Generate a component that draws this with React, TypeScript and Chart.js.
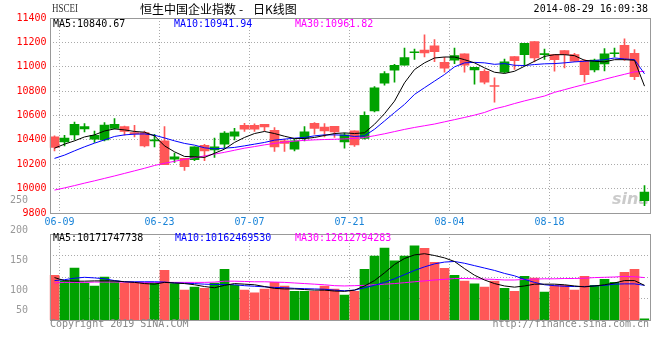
import React, { useEffect, useRef } from 'react';
import { Chart, registerables } from 'chart.js';

Chart.register(...registerables);

// ---------------- DATA ----------------
const DATES = [
  '06-06', '06-09', '06-10', '06-11', '06-12', '06-13', '06-16', '06-17', '06-18', '06-19',
  '06-20', '06-23', '06-24', '06-25', '06-26', '06-27', '06-30', '07-02', '07-03', '07-04',
  '07-07', '07-08', '07-09', '07-10', '07-11', '07-14', '07-15', '07-16', '07-17', '07-18',
  '07-21', '07-22', '07-23', '07-24', '07-25', '07-28', '07-29', '07-30', '07-31', '08-01',
  '08-04', '08-05', '08-06', '08-07', '08-08', '08-11', '08-12', '08-13', '08-14', '08-15',
  '08-18', '08-19', '08-20', '08-21', '08-22', '08-25', '08-26', '08-27', '08-28', '08-29',
];
const AXIS_DATES = ['06-09', '06-23', '07-07', '07-21', '08-04', '08-18'];

const OPEN = [
  10424, 10384, 10441, 10490, 10406, 10400, 10493, 10509, 10460, 10460,
  10392, 10392, 10242, 10248, 10237, 10355, 10318, 10365, 10430, 10520,
  10520, 10528, 10479, 10392, 10324, 10414, 10536, 10506, 10512, 10384,
  10474, 10411, 10637, 10865, 10971, 11012, 11115, 11136, 11172, 11036,
  11053, 11107, 10974, 10963, 10845, 10956, 11083, 11100, 11207, 11100,
  11099, 11132, 11099, 11051, 10975, 11023, 11107, 11176, 11111, 9902,
];
const CLOSE = [
  10338, 10414, 10528, 10509, 10438, 10522, 10528, 10469, 10449, 10351,
  10400, 10196, 10261, 10180, 10343, 10309, 10343, 10455, 10465, 10487,
  10487, 10506, 10343, 10371, 10392, 10465, 10493, 10473, 10465, 10441,
  10359, 10602, 10828, 10944, 11012, 11075, 11121, 11114, 11123, 10988,
  11091, 11012, 10996, 10873, 10838, 11041, 11050, 11192, 11073, 11106,
  11058, 11099, 11045, 10934, 11054, 11105, 11112, 11065, 10918, 9971,
];
const HIGH = [
  10433, 10438, 10547, 10534, 10473, 10542, 10575, 10514, 10520, 10473,
  10446, 10509, 10291, 10248, 10343, 10364, 10414, 10469, 10495, 10536,
  10532, 10528, 10501, 10406, 10406, 10509, 10542, 10534, 10512, 10455,
  10474, 10630, 10838, 10961, 11020, 11154, 11145, 11262, 11222, 11077,
  11154, 11107, 10996, 10977, 10909, 11063, 11083, 11192, 11207, 11145,
  11099, 11132, 11110, 11059, 11062, 11150, 11153, 11230, 11141, 10025,
];
const LOW = [
  10310, 10351, 10400, 10465, 10379, 10392, 10490, 10438, 10424, 10343,
  10343, 10196, 10216, 10149, 10229, 10229, 10257, 10330, 10400, 10469,
  10469, 10473, 10305, 10305, 10310, 10392, 10447, 10424, 10420, 10332,
  10346, 10406, 10630, 10849, 10873, 11012, 11060, 11080, 11042, 10955,
  11026, 10955, 10857, 10860, 10710, 10950, 10978, 11010, 11040, 11060,
  10964, 10990, 11042, 10875, 10958, 10965, 11080, 11052, 10893, 9861,
];

const MA5 = [
  10332, 10365, 10392, 10424, 10441, 10473, 10490, 10482, 10469, 10463,
  10433, 10351, 10302, 10264, 10261, 10256, 10290, 10324, 10379, 10420,
  10452, 10469, 10452, 10430, 10411, 10411, 10420, 10436, 10452, 10457,
  10452, 10458, 10528, 10615, 10718, 10868, 10977, 11032, 11072, 11080,
  11080, 11058, 11032, 10991, 10955, 10945, 10963, 11004, 11045, 11085,
  11099, 11099, 11091, 11053, 11045, 11040, 11058, 11058, 11053, 10841,
];
const MA10 = [
  10248, 10275, 10310, 10343, 10373, 10400, 10428, 10441, 10447, 10449,
  10438, 10416, 10392, 10371, 10357, 10335, 10326, 10332, 10338, 10351,
  10365, 10379, 10398, 10406, 10414, 10420, 10433, 10441, 10441, 10438,
  10428, 10433, 10487, 10555, 10624, 10691, 10773, 10828, 10882, 10936,
  10999, 11032, 11036, 11032, 11020, 11026, 11012, 11010, 11018, 11024,
  11026, 11032, 11040, 11045, 11051, 11058, 11072, 11064, 11058, 10942,
];
const MA30 = [
  9988, 10006, 10025, 10045, 10064, 10084, 10104, 10125, 10146, 10167,
  10190, 10208, 10224, 10240, 10254, 10268, 10283, 10298, 10315, 10332,
  10345, 10359, 10371, 10382, 10390, 10396, 10400, 10403, 10405, 10408,
  10412, 10420, 10434, 10450, 10468, 10486, 10502, 10516, 10530, 10548,
  10566, 10584, 10603, 10625, 10655, 10674, 10698, 10720, 10740, 10760,
  10790, 10812, 10834, 10855, 10875, 10897, 10918, 10938, 10958, 10962,
];

const VOLUME = [
  125, 115.5, 137, 112, 106.7, 122, 115, 112, 112, 112,
  112, 133, 111, 100, 105, 103, 112, 135, 108, 100,
  95.5, 101.7, 113, 106.7, 98, 98, 98, 107, 101.7, 91.7,
  98, 135, 157, 170.5, 149, 157, 174, 170, 146.7, 136.7,
  125, 115, 110.5, 105, 115, 103, 98, 123, 120, 96.7,
  108, 108, 100, 123, 108, 118, 113, 130, 135, 52,
];
const VOL_MA5 = [
  121, 116, 115, 115, 115.5, 115.5, 115.5, 114, 113, 111,
  110, 113, 112, 111, 109, 106, 104, 108, 111, 110,
  109, 106, 103, 102, 102, 101, 100, 100, 98.5, 98,
  100, 107, 116, 129, 143, 153, 159, 161, 158, 154,
  148, 136, 125, 117, 111, 107, 105, 107, 110, 110,
  110, 109, 107, 105.5, 107, 109, 112, 116, 116, 108,
];
const VOL_MA10 = [
  116, 117.5, 120, 121.5, 120.5, 119, 116, 114, 114, 114,
  114, 113.5, 112, 111.5, 111, 110, 109.5, 109.5, 109, 107.5,
  106.5, 105.5, 104.5, 104, 103, 102.5, 102, 101.5, 100, 99,
  100, 104, 108, 113, 119, 126, 133, 139, 144, 147,
  148, 145, 141, 137, 133, 128, 124, 118, 113, 109,
  107.5, 106.5, 106, 106, 107, 108, 110, 110.5, 110.5, 108,
];
const VOL_MA30 = [
  112, 113, 113, 113, 113.5, 113.5, 113.5, 113.5, 113, 113,
  113, 113, 113, 113, 113, 113, 113.5, 115, 115, 114.5,
  114, 114, 113.5, 113, 112, 111, 110, 109, 107.5, 107,
  107.5, 108, 109, 110, 111, 112.5, 114, 115.5, 117, 118,
  119.5, 119.5, 119, 118.5, 118, 117, 117, 118, 118.5, 119,
  119, 119.5, 119.5, 120, 121, 121.5, 122, 123, 122.5, 121,
];

const PRICE_MIN = 9800;
const PRICE_MAX = 11400;
const PRICE_STEP = 200;
const VOL_MIN = 50;
const VOL_MAX = 194;
const VOL_TICKS = [50, 100, 150, 200, 250];

const SYMBOL = 'HSCEI';
const TITLE_MAIN = '恒生中国企业指数';
const TITLE_SEP = '-';
const TITLE_SUB = '日K线图';
const TIMESTAMP = '2014-08-29 16:09:38';
const PRICE_LEGEND = [
  { text: 'MA5:10840.67', color: '#000000' },
  { text: 'MA10:10941.94', color: '#0000ff' },
  { text: 'MA30:10961.82', color: '#ff00ff' },
];
const VOL_LEGEND = [
  { text: 'MA5:10171747738', color: '#000000' },
  { text: 'MA10:10162469530', color: '#0000ff' },
  { text: 'MA30:12612794283', color: '#ff00ff' },
];
const COPYRIGHT = 'Copyright 2019 SINA.COM';
const SITE = 'http://finance.sina.com.cn';
const WATERMARK = 'sina';

// ---------------- STYLE ----------------
const MONO = '"DejaVu Sans Mono", "Liberation Mono", monospace';
const UP = '#00a200';
const DOWN = '#ff5757';
const GRID = '#aaaaaa';
const FRAME = '#999999';
const DATE_BLUE = '#1a84d8';
const LEGEND_X = [53, 174, 295];

const candleColors = DATES.map((_, i) => (CLOSE[i] >= OPEN[i] ? UP : DOWN));

function text(ctx: CanvasRenderingContext2D, s: string, x: number, y: number, font: string, color: string, align: CanvasTextAlign = 'left') {
  ctx.save();
  ctx.font = font;
  ctx.fillStyle = color;
  ctx.textAlign = align;
  ctx.textBaseline = 'middle';
  ctx.fillText(s, x, y);
  ctx.restore();
}

function frame(chart: any) {
  const { ctx, chartArea: a } = chart;
  ctx.save();
  ctx.strokeStyle = FRAME;
  ctx.lineWidth = 1;
  const l = Math.round(a.left) + 0.5;
  const t = Math.round(a.top) + 0.5;
  const r = Math.round(a.right) + 0.5;
  const b = Math.round(a.bottom) + 0.5;
  ctx.strokeRect(l, t, r - l, b - t);
  ctx.restore();
}

const lineDs = (label: string, data: number[], color: string) => ({
  type: 'line' as const,
  label,
  data,
  borderColor: color,
  borderWidth: 1,
  pointRadius: 0,
  tension: 0,
  fill: false,
  order: 0,
});

const xGridColor = (c: any) => (AXIS_DATES.includes(DATES[c.index]) ? GRID : 'rgba(0,0,0,0)');

function priceConfig(): any {
  return {
    type: 'bar',
    data: {
      labels: DATES,
      datasets: [
        lineDs('MA5', MA5, '#000000'),
        lineDs('MA10', MA10, '#0000ff'),
        lineDs('MA30', MA30, '#ff00ff'),
        {
          type: 'bar',
          label: 'body',
          data: DATES.map((_, i) => [OPEN[i], CLOSE[i]]),
          backgroundColor: candleColors,
          barThickness: 9,
          grouped: false,
          minBarLength: 1,
          order: 1,
        },
        {
          type: 'bar',
          label: 'wick',
          data: DATES.map((_, i) => [LOW[i], HIGH[i]]),
          backgroundColor: candleColors,
          barThickness: 1,
          grouped: false,
          order: 2,
        },
      ],
    },
    options: {
      animation: false,
      responsive: false,
      maintainAspectRatio: false,
      devicePixelRatio: 1,
      events: [],
      layout: { padding: { top: 18, right: 10.5, left: 0, bottom: 0 } },
      plugins: { legend: { display: false }, tooltip: { enabled: false } },
      scales: {
        x: {
          type: 'category',
          offset: true,
          grid: { offset: true, drawTicks: false, color: xGridColor, lineWidth: 1 },
          border: { display: false, dash: [1, 2] },
          ticks: {
            autoSkip: false,
            maxRotation: 0,
            minRotation: 0,
            color: DATE_BLUE,
            font: { family: MONO, size: 10 },
            padding: 3,
            labelOffset: -5,
            callback: (_v: any, i: number) => (AXIS_DATES.includes(DATES[i]) ? DATES[i] : ''),
          },
          afterFit: (s: any) => { s.height = 19; },
        },
        y: {
          min: PRICE_MIN,
          max: PRICE_MAX,
          ticks: {
            stepSize: PRICE_STEP,
            color: '#ff0000',
            font: { family: MONO, size: 10 },
            padding: 3,
            callback: (v: any) => String(v),
          },
          grid: { drawTicks: false, color: GRID, lineWidth: 1 },
          border: { display: false, dash: [1, 2] },
          afterFit: (s: any) => { s.width = 49.5; },
        },
      },
    },
    plugins: [
      {
        id: 'priceDecor',
        beforeDatasetsDraw(chart: any) {
          const { ctx } = chart;
          text(ctx, WATERMARK, 612, 200, 'italic bold 16px "DejaVu Sans"', 'rgba(185,185,185,0.75)');
        },
        afterDraw(chart: any) {
          const { ctx } = chart;
          frame(chart);
          ctx.save();
          ctx.translate(52, 9);
          ctx.scale(0.75, 1);
          text(ctx, SYMBOL, 0, 0, '12px "Liberation Serif"', '#333333');
          ctx.restore();
          const cjk = '12px "Noto Sans CJK SC"';
          text(ctx, TITLE_MAIN, 140, 9, cjk, '#000000');
          text(ctx, TITLE_SEP, 241, 9, cjk, '#000000', 'center');
          text(ctx, TITLE_SUB, 253, 9, cjk, '#000000');
          text(ctx, TIMESTAMP, 648, 9, `10px ${MONO}`, '#000000', 'right');
          PRICE_LEGEND.forEach((l, i) => text(ctx, l.text, LEGEND_X[i], 24, `10px ${MONO}`, l.color));
        },
      },
    ],
  };
}

function volumeConfig(): any {
  return {
    type: 'bar',
    data: {
      labels: DATES,
      datasets: [
        { ...lineDs('VMA5', VOL_MA5, '#000000'), yAxisID: 'y' },
        { ...lineDs('VMA10', VOL_MA10, '#0000ff'), yAxisID: 'y' },
        { ...lineDs('VMA30', VOL_MA30, '#ff00ff'), yAxisID: 'y' },
        {
          type: 'bar',
          label: 'volume',
          data: VOLUME,
          backgroundColor: candleColors,
          barThickness: 9,
          yAxisID: 'y',
          order: 1,
        },
      ],
    },
    options: {
      animation: false,
      responsive: false,
      maintainAspectRatio: false,
      devicePixelRatio: 1,
      events: [],
      layout: { padding: { top: 44, right: 10.5, left: 0, bottom: 40 } },
      plugins: { legend: { display: false }, tooltip: { enabled: false } },
      scales: {
        x: {
          type: 'category',
          offset: true,
          grid: { offset: true, drawTicks: false, color: xGridColor, lineWidth: 1 },
          border: { display: false, dash: [1, 2] },
          ticks: { display: false, autoSkip: false },
          afterFit: (s: any) => { s.height = 0; },
        },
        y: {
          type: 'linear',
          position: 'left',
          min: VOL_MIN,
          max: VOL_MAX,
          ticks: { display: false },
          grid: { display: false },
          border: { display: false },
          afterFit: (s: any) => { s.width = 49.5; },
        },
        g: {
          type: 'linear',
          position: 'left',
          min: 0,
          max: 4,
          ticks: { display: false, stepSize: 1 },
          grid: { drawTicks: false, color: GRID, lineWidth: 1 },
          border: { display: false, dash: [1, 2] },
          afterFit: (s: any) => { s.width = 0; },
        },
      },
    },
    plugins: [
      {
        id: 'volDecor',
        afterDraw(chart: any) {
          const { ctx, chartArea: a } = chart;
          const ys = chart.scales.y;
          frame(chart);
          VOL_TICKS.forEach((v) => {
            const y = Math.min(ys.getPixelForValue(v), a.bottom - 10);
            text(ctx, String(v), 28, y, `10px ${MONO}`, '#999999', 'right');
          });
          VOL_LEGEND.forEach((l, i) => text(ctx, l.text, LEGEND_X[i] + (i === 1 ? 1 : 0), a.top + 4.5, `10px ${MONO}`, l.color));
          text(ctx, COPYRIGHT, 50, a.bottom + 4.5, `10px ${MONO}`, '#888888');
          text(ctx, SITE, 649, a.bottom + 4.5, `10px ${MONO}`, '#888888', 'right');
        },
      },
    ],
  };
}

export default function App() {
  const priceRef = useRef<HTMLCanvasElement>(null);
  const volRef = useRef<HTMLCanvasElement>(null);

  useEffect(() => {
    document.body.style.margin = '0';
    const charts = [
      new Chart(priceRef.current as HTMLCanvasElement, priceConfig()),
      new Chart(volRef.current as HTMLCanvasElement, volumeConfig()),
    ];
    return () => charts.forEach((c) => c.destroy());
  }, []);

  return (
    <div style={{ position: 'fixed', left: 0, top: 0, width: 660, height: 360, background: '#ffffff', overflow: 'hidden' }}>
      <canvas ref={priceRef} width={660} height={232} style={{ position: 'absolute', left: 0, top: 0, width: 660, height: 232 }} />
      <canvas ref={volRef} width={660} height={170} style={{ position: 'absolute', left: 0, top: 190, width: 660, height: 170 }} />
    </div>
  );
}
